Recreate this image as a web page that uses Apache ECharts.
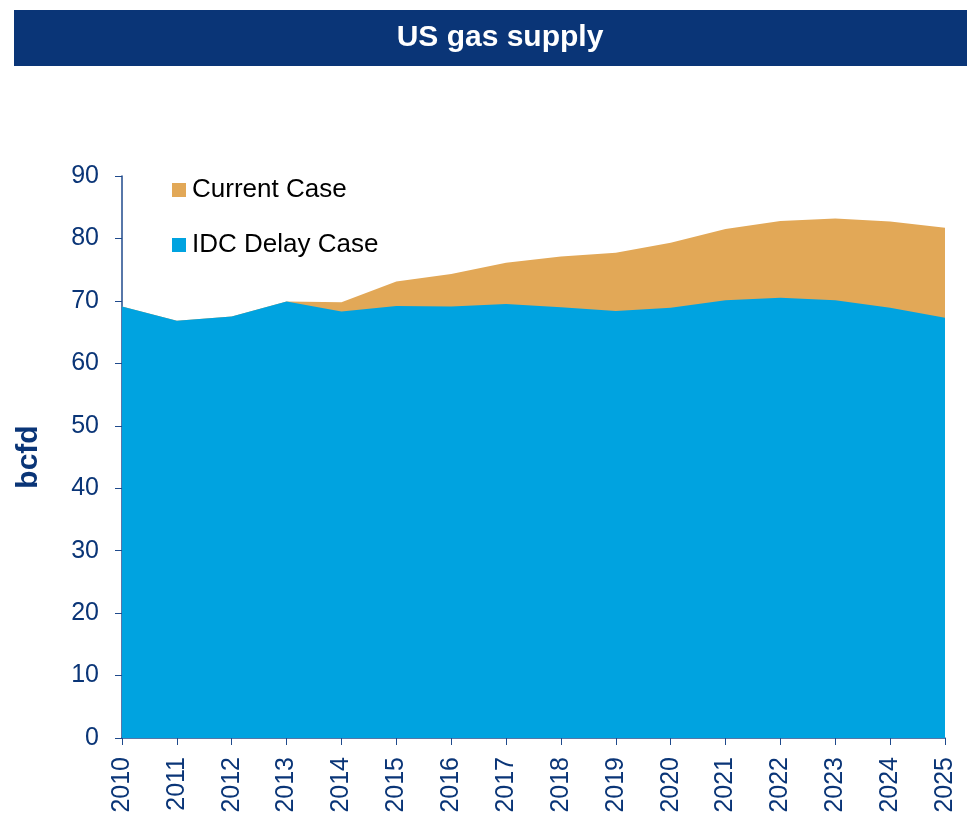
<!DOCTYPE html>
<html>
<head>
<meta charset="utf-8">
<script src="https://cdn.jsdelivr.net/npm/echarts@6/dist/echarts.min.js"></script>
<style>
  html, body { margin: 0; padding: 0; background: #fff; }
  #chart { width: 967px; height: 816px; }
</style>
</head>
<body>
<div id="chart"></div>
<script>
// years on the x axis
var years = ['2010', '2011', '2012', '2013', '2014', '2015', '2016', '2017',
             '2018', '2019', '2020', '2021', '2022', '2023', '2024', '2025'];
// total supply, bcfd
var currentCase = [69.1, 66.8, 67.5, 69.9, 69.8, 73.1, 74.3, 76.1,
                   77.1, 77.7, 79.3, 81.5, 82.8, 83.2, 82.7, 81.7];
var idcDelayCase = [69.1, 66.8, 67.5, 69.9, 68.3, 69.2, 69.1, 69.5,
                    69.0, 68.4, 68.9, 70.1, 70.5, 70.1, 68.9, 67.3];

var navy = '#0A3577';
var axisBlue = '#1F4A8C';
var font = 'Liberation Sans, Arial, sans-serif';

var chart = echarts.init(document.getElementById('chart'));
chart.setOption({
	animation: false,
	textStyle: { fontFamily: font },
	graphic: [
		{
			type: 'rect',
			left: 14, top: 10,
			shape: { width: 953, height: 56 },
			style: { fill: navy }
		},
		{
			type: 'text',
			x: 500, y: 38,
			style: {
				text: 'US gas supply',
				fill: '#fff',
				font: 'bold 30px ' + font,
				textAlign: 'center',
				textVerticalAlign: 'middle'
			}
		}
	],
	legend: {
		orient: 'vertical',
		left: 172,
		top: 177,
		padding: 0,
		itemWidth: 14,
		itemHeight: 14,
		itemGap: 29,
		icon: 'rect',
		textStyle: { color: '#000', fontSize: 26, fontFamily: font, padding: [0, 0, 0, 1] },
		data: ['Current Case', 'IDC Delay Case']
	},
	grid: { left: 122, right: 22, top: 176, bottom: 78, containLabel: false },
	xAxis: {
		type: 'category',
		boundaryGap: false,
		data: years,
		axisLine: { lineStyle: { color: axisBlue, width: 1.5 } },
		axisTick: { alignWithLabel: true, length: 7, lineStyle: { color: axisBlue } },
		axisLabel: {
			rotate: 90,
			color: navy,
			fontSize: 25,
			margin: 19,
			interval: 0
		}
	},
	yAxis: {
		type: 'value',
		min: 0, max: 90, interval: 10,
		name: 'bcfd',
		nameLocation: 'middle',
		nameGap: 78,
		nameTextStyle: { color: navy, fontSize: 30, fontWeight: 'bold', fontFamily: font },
		axisLine: { show: true, lineStyle: { color: axisBlue, width: 1.5 } },
		axisTick: { show: true, length: 7, lineStyle: { color: axisBlue } },
		axisLabel: { color: navy, fontSize: 25, margin: 23 },
		splitLine: { show: false }
	},
	series: [
		{
			name: 'Current Case',
			type: 'line',
			data: currentCase,
			symbol: 'none',
			lineStyle: { width: 0 },
			itemStyle: { color: '#E2A857' },
			areaStyle: { color: '#E2A857', opacity: 1 },
			z: 1
		},
		{
			name: 'IDC Delay Case',
			type: 'line',
			data: idcDelayCase,
			symbol: 'none',
			lineStyle: { width: 0 },
			itemStyle: { color: '#00A3E0' },
			areaStyle: { color: '#00A3E0', opacity: 1 },
			z: 2
		}
	]
});
</script>
</body>
</html>
